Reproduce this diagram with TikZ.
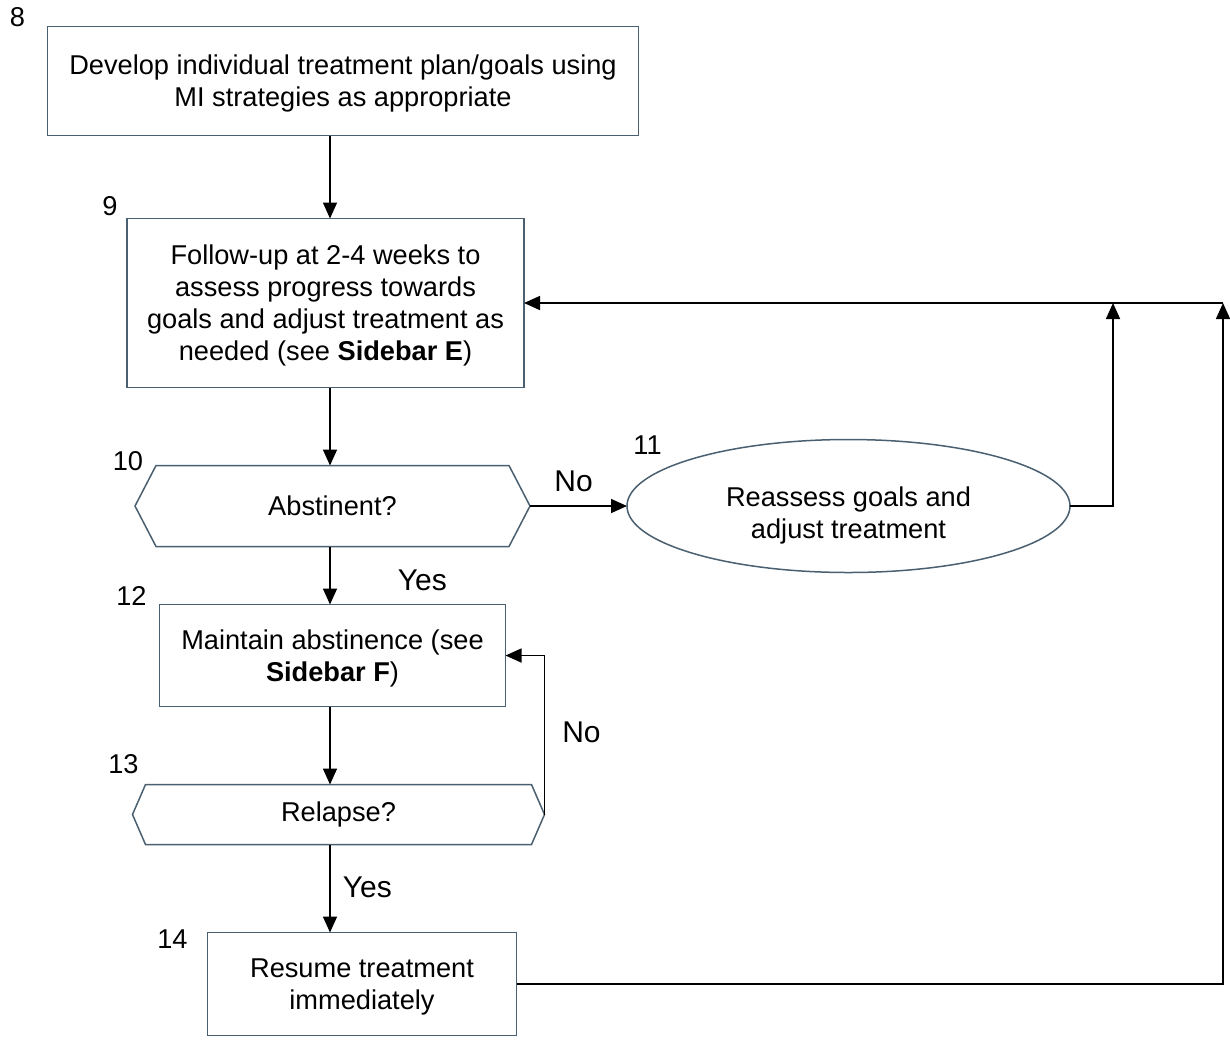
\documentclass[tikz,border=0pt]{standalone}
\usepackage{xcolor}
\usepackage{fontspec}
\setmainfont{Liberation Sans}
\usetikzlibrary{shapes.geometric, arrows.meta, positioning}

\definecolor{edgeblue}{HTML}{4A6070}

% hexagon outline round a decision node
\newcommand{\hexframe}[2]{%
  \draw[edgeblue, line width=0.75pt] (#1.west) -- ([xshift=#2]#1.north west) -- ([xshift=-#2]#1.north east)
    -- (#1.east) -- ([xshift=-#2]#1.south east) -- ([xshift=#2]#1.south west) -- cycle;}

\begin{document}
\begin{tikzpicture}[
    x=0.5pt, y=-0.5pt,
    >={Triangle[width=7pt,length=8pt]},
    font=\fontsize{13.6}{16}\selectfont,
    process/.style={rectangle, draw=edgeblue, line width=0.75pt, align=center, inner sep=0pt, outer sep=0pt, text depth=0pt},
    decision/.style={rectangle, align=center, inner sep=0pt, outer sep=0pt},
    review/.style={ellipse, draw=edgeblue, line width=0.75pt, align=center, inner sep=0pt, outer sep=0pt, text depth=0pt},
    num/.style={inner sep=0pt},
    answer/.style={inner sep=0pt, font=\fontsize{15}{17}\selectfont}
]
\useasboundingbox (0,0) rectangle (1230,1040);

% Main column
\node[process, minimum width=295.5pt, minimum height=54.5pt] (plan) at (343,81)
    {Develop individual treatment plan/goals using\\MI strategies as appropriate};
\node[process, minimum width=198.5pt, minimum height=84.5pt, below=41.5pt of plan, xshift=-8.75pt] (followup)
    {Follow-up at 2-4 weeks to\\assess progress towards\\goals and adjust treatment as\\needed (see \textbf{Sidebar E})};
\node[decision, minimum width=197.5pt, minimum height=40.5pt, below=39pt of followup, xshift=3.5pt] (abst) {Abstinent?};
\hexframe{abst}{10.5pt}
\node[process, minimum width=173pt, minimum height=51pt, below=29pt of abst] (maintain)
    {Maintain abstinence (see\\\textbf{Sidebar F})};
\node[decision, minimum width=206pt, minimum height=30pt, below=39pt of maintain, xshift=3pt] (relapse) {Relapse?};
\hexframe{relapse}{6.5pt}
\node[process, minimum width=154.5pt, minimum height=51.5pt, below=44pt of relapse, xshift=11.75pt] (resume)
    {Resume treatment\\immediately};

% Side branch
\node[review, minimum width=221.5pt, minimum height=66.5pt, right=48.5pt of abst] (reassess)
    {\rule{0pt}{16pt}Reassess goals and\\adjust treatment};

% Step numbers
\node[num] (n8) at ([shift={(-30,-9)}]plan.north west) {8};
\node[num] (n9) at ([shift={(-17,-12)}]followup.north west) {9};
\node[num] (n10) at ([shift={(-7,-4)}]abst.north west) {10};
\node[num] (n11) at ([shift={(-201,6)}]reassess.north) {11};
\node[num] (n12) at ([shift={(-28,-9)}]maintain.north west) {12};
\node[num] (n13) at ([shift={(-9,-20)}]relapse.north west) {13};
\node[num] (n14) at ([shift={(-35,7)}]resume.north west) {14};

% Helper columns
\coordinate (spine) at (330,0);
\coordinate (inner) at (1113,0);
\coordinate (outer) at (1223,0);

% Arrows
\draw[->, thick] (plan.south -| spine) -- (followup.north -| spine);
\draw[->, thick] (followup.south -| spine) -- (abst.north -| spine);
\draw[->, thick] (abst.east) -- (reassess.west) node[answer, pos=0.45, anchor=south, yshift=6.5pt] {No};
\draw[->, thick] (abst.south -| spine) -- (maintain.north -| spine) node[answer, pos=0.59, anchor=west, xshift=33.5pt] {Yes};
\draw[->, thick] (maintain.south -| spine) -- (relapse.north -| spine);
\draw[->, thick] (relapse.east) |- (maintain.east) node[answer, pos=0.26, anchor=west, xshift=8.5pt] {No};
\draw[->, thick] (relapse.south -| spine) -- (resume.north -| spine) node[answer, pos=0.49, anchor=west, xshift=6pt] {Yes};

% Feedback loops
\draw[->, thick] (outer |- followup.east) -- (followup.east);
\draw[->, thick] (reassess.east) -| (inner |- followup.east);
\draw[->, thick] (resume.east) -| (outer |- followup.east);

\end{tikzpicture}
\end{document}
